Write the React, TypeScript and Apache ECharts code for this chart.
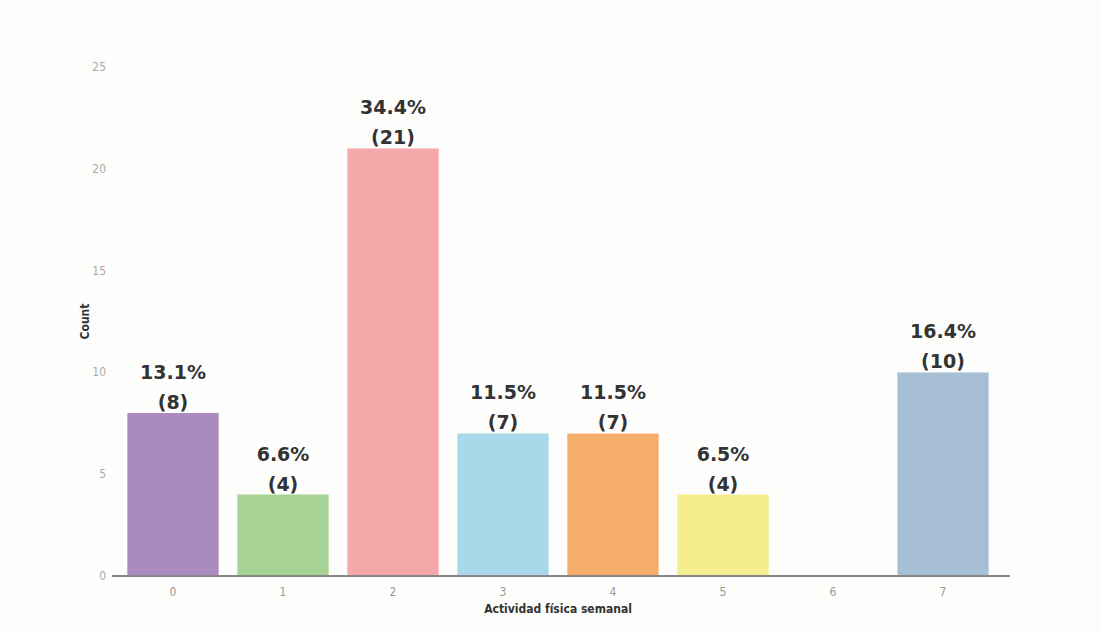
import React, { useEffect, useRef } from "react";
import * as echarts from "echarts";

const categories = ["0", "1", "2", "3", "4", "5", "6", "7"];
const counts = [8, 4, 21, 7, 7, 4, 0, 10];
const percents = ["13.1%", "6.6%", "34.4%", "11.5%", "11.5%", "6.5%", "", "16.4%"];
const colors = ["#a98bbe", "#a7d494", "#f4a8a9", "#a9d8ea", "#f5ad6c", "#f5ee8e", "#cccccc", "#a6bfd5"];
const yTicks = [0, 5, 10, 15, 20, 25];

export default function App() {
  const ref = useRef<HTMLDivElement>(null);
  useEffect(() => {
    const chart = echarts.init(ref.current!, null, { renderer: "svg" });
    chart.setOption({
      animation: false,
      backgroundColor: "#fdfdfb",
      grid: { left: 118, right: 102, top: 67, bottom: 58 },
      graphic: [
        {
          type: "line",
          shape: { x1: 112, y1: 576, x2: 1010, y2: 576 },
          style: { stroke: "#888", lineWidth: 2 },
          z: 10,
        },
      ],
      xAxis: {
        type: "category",
        data: categories,
        name: "Actividad física semanal",
        nameLocation: "middle",
        nameGap: 26,
        nameTextStyle: { color: "#333", fontSize: 12, fontWeight: "bold", fontFamily: "Liberation Sans Narrow, DejaVu Sans Condensed, sans-serif" },
        axisLine: { show: false },
        axisTick: { show: false },
        axisLabel: { color: "#999", fontSize: 12, margin: 10, fontFamily: "DejaVu Sans Condensed, sans-serif" },
      },
      yAxis: {
        type: "value",
        min: yTicks[0],
        max: yTicks[yTicks.length - 1],
        interval: 5,
        name: "Count",
        nameLocation: "middle",
        nameGap: 27,
        nameMoveOverlap: false,
        nameTextStyle: { color: "#333", fontSize: 12, fontWeight: "bold", fontFamily: "Liberation Sans Narrow, DejaVu Sans Condensed, sans-serif" },
        axisLine: { show: false },
        axisTick: { show: false },
        splitLine: { show: false },
        axisLabel: { color: "#aaa", fontSize: 12, margin: 12, fontFamily: "DejaVu Sans Condensed, sans-serif" },
      },
      series: [
        {
          type: "bar",
          data: counts.map((v, i) => ({ value: v, itemStyle: { color: colors[i] } })),
          barCategoryGap: "17%",
          label: {
            show: true,
            position: "top",
            distance: -4,
            lineHeight: 30,
            color: "#333",
            fontSize: 19,
            fontWeight: 600,
            fontFamily: "Verdana, DejaVu Sans, sans-serif",
            formatter: (p: any) => (counts[p.dataIndex] > 0 ? `${percents[p.dataIndex]}\n(${counts[p.dataIndex]})` : ""),
          },
        },
      ],
    });
    return () => chart.dispose();
  }, []);
  return <div ref={ref} style={{ width: 1100, height: 634, position: "absolute", left: 0, top: 0 }} />;
}
